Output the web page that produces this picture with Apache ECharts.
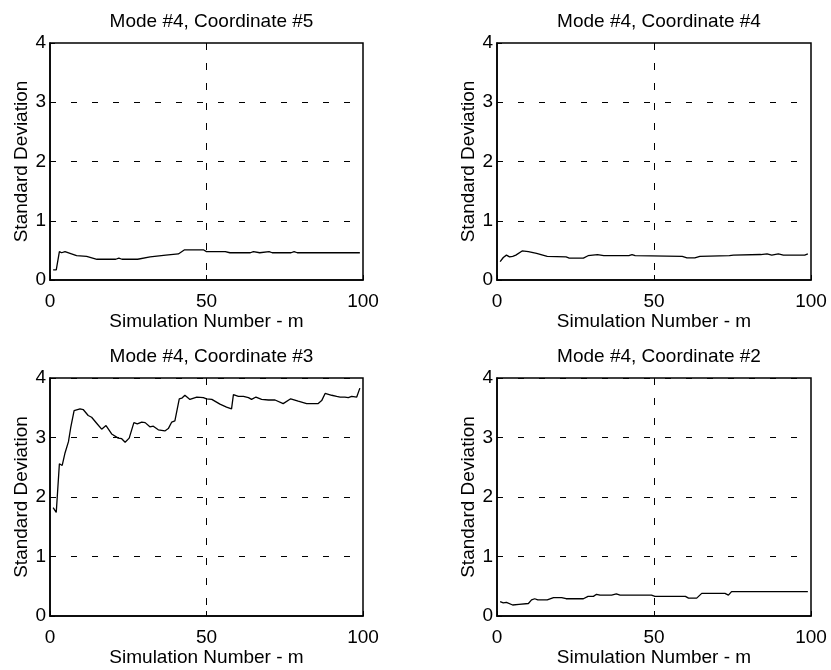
<!DOCTYPE html>
<html>
	<head>
		<meta charset="UTF-8">
		<title>Mode #4 standard deviation</title>
		<style>
			html, body { margin: 0; padding: 0; background: #fff; }
			#chart { width: 831px; height: 670px; }
		</style>
	</head>
	<body>
		<div id="chart"></div>
	</body>
	<script src="https://cdn.jsdelivr.net/npm/echarts@6/dist/echarts.min.js" type="text/javascript" charset="utf-8"></script>
	<script type="text/javascript">
		// panel titles, in drawing order: top-left, top-right, bottom-left, bottom-right
		var titles = ['Mode #4, Coordinate #5', 'Mode #4, Coordinate #4', 'Mode #4, Coordinate #3', 'Mode #4, Coordinate #2'];
		var xTicks = [0, 50, 100];
		var yTicks = [0, 1, 2, 3, 4];

		// coordinate #5
		var c5X = [1, 2, 3, 3.7, 4.8, 6.4, 8.5, 11.7, 15, 21, 22, 23, 28, 32, 37, 41, 43, 49, 50, 56, 57.5, 64, 65, 67, 70, 71, 77, 78, 79, 99];
		var c5Y = [0.17, 0.17, 0.48, 0.46, 0.48, 0.45, 0.41, 0.40, 0.35, 0.35, 0.37, 0.35, 0.35, 0.39, 0.42, 0.44, 0.51, 0.51, 0.48, 0.48, 0.46, 0.46, 0.48, 0.46, 0.48, 0.46, 0.46, 0.48, 0.46, 0.46];

		// coordinate #4
		var c4X = [1, 2, 3, 4, 5, 6, 8, 10, 12.6, 16, 22, 23, 27.5, 29, 32, 34, 42, 43, 44, 59, 60.5, 63, 64.6, 74, 75.3, 84, 86, 87.5, 89.6, 91.2, 98, 99];
		var c4Y = [0.31, 0.38, 0.42, 0.39, 0.40, 0.42, 0.49, 0.48, 0.45, 0.40, 0.39, 0.37, 0.37, 0.41, 0.43, 0.41, 0.41, 0.43, 0.41, 0.40, 0.375, 0.375, 0.40, 0.41, 0.42, 0.43, 0.44, 0.42, 0.44, 0.42, 0.42, 0.44];

		// coordinate #3
		var c3X = [1, 2, 3, 3.9, 4.8, 5.9, 6.6, 7.7, 9.6, 10.6, 12.2, 13.3, 14.9, 16.5, 17.9, 19.7, 21.8, 22.9, 24, 25.3, 26.8, 27.9, 29.3, 30.4, 31.9, 33, 34.6, 36.7, 37.8, 38.9, 39.9, 41.3, 42.1, 43.1, 44.7, 46.9, 49, 50, 51.7, 54.3, 56.4, 58, 58.6, 60.2, 61.8, 63.4, 64.4, 65.8, 67.6, 69.8, 71.9, 74.5, 76.9, 79.3, 82, 85.7, 86.8, 87.9, 90, 91.6, 92.7, 94.2, 95.3, 96.4, 98, 99];
		var c3Y = [1.82, 1.74, 2.56, 2.53, 2.74, 2.93, 3.16, 3.45, 3.48, 3.47, 3.37, 3.34, 3.24, 3.14, 3.20, 3.06, 2.99, 2.98, 2.92, 2.99, 3.25, 3.23, 3.26, 3.25, 3.18, 3.19, 3.13, 3.11, 3.15, 3.26, 3.28, 3.65, 3.66, 3.71, 3.64, 3.68, 3.67, 3.65, 3.64, 3.56, 3.51, 3.48, 3.72, 3.69, 3.69, 3.67, 3.64, 3.68, 3.64, 3.63, 3.63, 3.57, 3.65, 3.61, 3.57, 3.57, 3.62, 3.74, 3.71, 3.69, 3.68, 3.68, 3.67, 3.69, 3.68, 3.83];

		// coordinate #2
		var c2X = [1, 2, 3, 5, 7, 10, 11, 12, 13, 16, 18, 20.6, 22, 27.5, 29, 30.7, 31.7, 32.8, 36.5, 38, 39.2, 49.2, 50.3, 60, 61, 63.6, 65.2, 72.6, 73.7, 74.7, 99];
		var c2Y = [0.24, 0.22, 0.23, 0.185, 0.195, 0.21, 0.27, 0.29, 0.27, 0.27, 0.31, 0.31, 0.29, 0.29, 0.33, 0.33, 0.365, 0.35, 0.35, 0.37, 0.35, 0.35, 0.33, 0.33, 0.30, 0.30, 0.38, 0.38, 0.35, 0.41, 0.41];

		var panelX = [c5X, c4X, c3X, c2X];
		var panelY = [c5Y, c4Y, c3Y, c2Y];

		var font = "'Liberation Sans', Arial, sans-serif";
		// grid boxes: [left, top, width, height]
		var boxes = [[50, 43, 313, 237], [497, 43, 314, 237], [50, 378, 313, 238], [497, 378, 314, 238]];

		var chart = echarts.init(document.getElementById('chart'), null, {renderer: 'canvas'});

		var option = {
			backgroundColor: '#fff',
			animation: false,
			title: [],
			grid: [],
			xAxis: [],
			yAxis: [],
			series: []
		};

		for (var i = 0; i < 4; i++) {
			var b = boxes[i];
			option.title.push({
				text: titles[i],
				left: b[0] + b[2] / 2,
				top: i < 2 ? 7 : 342,
				textAlign: 'center',
				textStyle: {fontFamily: font, fontSize: 19, fontWeight: 'normal', color: '#000'}
			});
			option.grid.push({
				left: b[0], top: b[1], width: b[2], height: b[3],
				show: true, borderColor: '#000', borderWidth: 1.5, backgroundColor: '#fff'
			});
			option.xAxis.push({
				type: 'value', gridIndex: i,
				min: xTicks[0], max: xTicks[xTicks.length - 1], interval: 50,
				name: 'Simulation Number - m', nameLocation: 'middle', nameGap: 31,
				nameTextStyle: {fontFamily: font, fontSize: 19, color: '#000'},
				axisLine: {show: true, lineStyle: {color: '#000', width: 1.5}},
				axisTick: {show: true, inside: true, length: 5, lineStyle: {color: '#000'}},
				axisLabel: {fontFamily: font, fontSize: 19, color: '#000', margin: 12},
				splitLine: {show: true, showMinLine: false, showMaxLine: false, lineStyle: {color: '#000', width: 1, type: [7, 13]}}
			});
			option.yAxis.push({
				type: 'value', gridIndex: i,
				min: yTicks[0], max: yTicks[yTicks.length - 1], interval: 1,
				name: 'Standard Deviation', nameLocation: 'middle', nameGap: 19,
				nameTextStyle: {fontFamily: font, fontSize: 19, color: '#000'},
				axisLine: {show: true, lineStyle: {color: '#000', width: 1.5}},
				axisTick: {show: true, inside: true, length: 5, lineStyle: {color: '#000'}},
				axisLabel: {fontFamily: font, fontSize: 19, color: '#000', margin: 4},
				splitLine: {show: true, showMinLine: false, showMaxLine: i >= 2, lineStyle: {color: '#000', width: 1, type: [6, 15]}}
			});
			var pts = panelX[i].map(function (x, k) { return [x, panelY[i][k]]; });
			option.series.push({
				type: 'line', xAxisIndex: i, yAxisIndex: i,
				data: pts, showSymbol: false, symbol: 'none',
				lineStyle: {color: '#000', width: 1.3}
			});
		}

		chart.setOption(option);
	</script>
</html>
